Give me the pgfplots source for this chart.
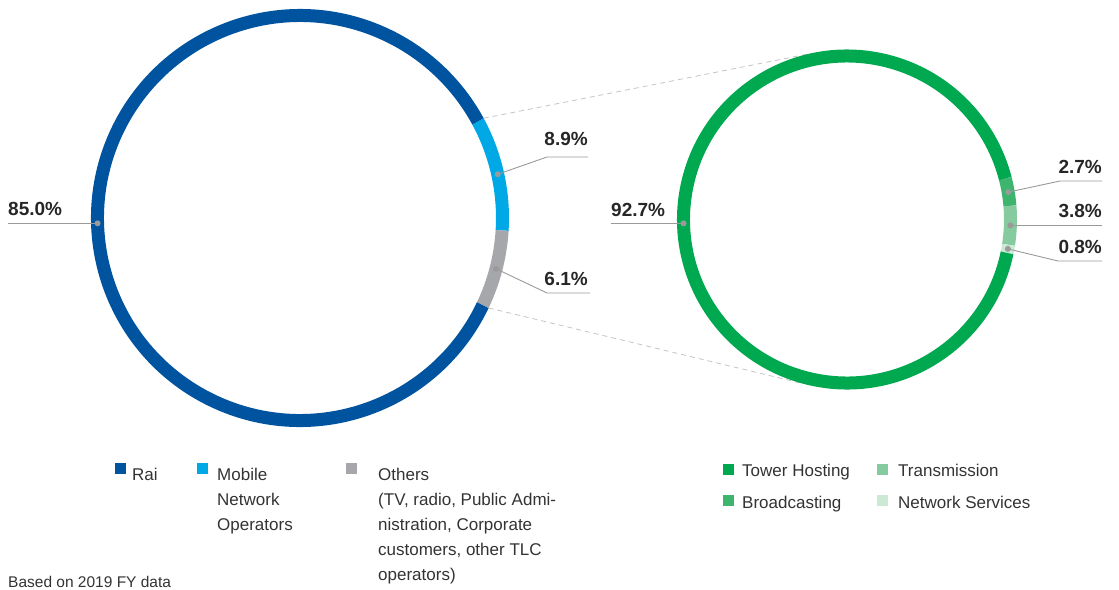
\documentclass[border=0pt]{standalone}
\usepackage{fontspec}
\setmainfont{Liberation Sans}
\usepackage{pgfplots}
\pgfplotsset{compat=1.18}

\definecolor{raiblue}{HTML}{00539F}
\definecolor{mobblue}{HTML}{00A9E6}
\definecolor{othgray}{HTML}{A6A7AA}
\definecolor{towergreen}{HTML}{00A84F}
\definecolor{bcgreen}{HTML}{3DB56F}
\definecolor{trgreen}{HTML}{86CA9F}
\definecolor{nsgreen}{HTML}{CBE9D5}
\definecolor{leadgray}{HTML}{9A9A9A}
\definecolor{dashgray}{HTML}{C4C4C4}
\definecolor{txt}{HTML}{333333}

% shares (percent), in clockwise drawing order
\def\leftdata{8.9/mobblue,6.1/othgray,85.0/raiblue}
\def\rightdata{2.7/bcgreen,3.8/trgreen,0.8/nsgreen,92.7/towergreen}
\def\leftstart{28.5}
\def\rightstart{14.5}

\newcommand{\pct}[1]{{\fontsize{19}{22}\selectfont\bfseries\color{black!85}#1}}
\newcommand{\leg}{\fontsize{17}{25}\selectfont\color{txt}}

\begin{document}
\begin{tikzpicture}
\begin{axis}[at={(0,0)}, anchor=south west,
  width=1119pt, height=589pt, scale only axis,
  xmin=0, xmax=1119, ymin=0, ymax=589, y dir=reverse,
  enlargelimits=false, hide axis, clip=false]
\coordinate (SW) at (axis cs:0,589);
\coordinate (NE) at (axis cs:1119,0);

% connector lines between the two rings
\pgfplotsextra{
  \pgfmathsetmacro\gend{\leftstart-3.6*(8.9+6.1)}
  \path (axis cs:300,218) ++(\leftstart:209pt) coordinate (ct1);
  \path (axis cs:300,218) ++(\gend:209pt) coordinate (cb1);
  \path (axis cs:847,219.5) ++(103:170pt) coordinate (ct2);
  \path (axis cs:847,219.5) ++(254:170pt) coordinate (cb2);
  \draw[dashgray, line width=0.8pt, dash pattern=on 5pt off 4pt] (ct1) -- (ct2);
  \draw[dashgray, line width=0.8pt, dash pattern=on 5pt off 4pt] (cb1) -- (cb2);
}

% left ring
\pgfplotsextra{
  \xdef\ang{\leftstart}
  \foreach \v/\c [count=\i] in \leftdata {
    \pgfmathsetmacro\e{\ang-3.6*\v}
    \pgfmathsetmacro\m{(\ang+\e)/2}
    \draw[\c, line width=13pt] (axis cs:300,218) ++(\ang:202.5pt)
      arc[start angle=\ang, end angle=\e, radius=202.5pt];
    \path (axis cs:300,218) ++(\m:202.5pt) coordinate (dL\i);
    \xdef\ang{\e}
  }
}

% right ring
\pgfplotsextra{
  \xdef\ang{\rightstart}
  \foreach \v/\c [count=\i] in \rightdata {
    \pgfmathsetmacro\e{\ang-3.6*\v}
    \pgfmathsetmacro\m{(\ang+\e)/2}
    \draw[\c, line width=13pt] (axis cs:847,219.5) ++(\ang:163.5pt)
      arc[start angle=\ang, end angle=\e, radius=163.5pt];
    \path (axis cs:847,219.5) ++(\m:163.5pt) coordinate (dR\i);
    \xdef\ang{\e}
  }
}

% leader lines and labels
\pgfplotsextra{
  \tikzset{lead/.style={leadgray, line width=0.9pt}}
  % left
  \draw[lead] (dL1) -- (axis cs:547,157) -- (axis cs:588,157);
  \node[anchor=base east, inner sep=0pt] at (axis cs:588,145) {\pct{8.9\%}};
  \draw[lead] (dL2) -- (axis cs:547,293) -- (axis cs:590,293);
  \node[anchor=base east, inner sep=0pt] at (axis cs:588,285) {\pct{6.1\%}};
  \coordinate (x85) at (axis cs:8,0);
  \draw[lead] (dL3) -- (dL3 -| x85) coordinate (e85);
  \path (e85) ++(0pt,7.5pt) node[anchor=base west, inner sep=0pt] {\pct{85.0\%}};
  % right
  \draw[lead] (dR1) -- (axis cs:1060,181) -- (axis cs:1102,181);
  \node[anchor=base east, inner sep=0pt] at (axis cs:1102,173) {\pct{2.7\%}};
  \coordinate (x38) at (axis cs:1102,0);
  \draw[lead] (dR2) -- (dR2 -| x38) coordinate (e38);
  \path (e38) ++(0pt,7.5pt) node[anchor=base east, inner sep=0pt] {\pct{3.8\%}};
  \draw[lead] (dR3) -- (axis cs:1058,261) -- (axis cs:1102,261);
  \node[anchor=base east, inner sep=0pt] at (axis cs:1102,253) {\pct{0.8\%}};
  \coordinate (x92) at (axis cs:611,0);
  \draw[lead] (dR4) -- (dR4 -| x92) coordinate (e92);
  \path (e92) ++(0pt,6.5pt) node[anchor=base west, inner sep=0pt] {\pct{92.7\%}};
  % dots
  \foreach \d in {dL1,dL2,dL3,dR1,dR2,dR3,dR4}
    \fill[leadgray] (\d) circle[radius=3pt];
}

% legends (multi-line nodes are anchored at the baseline of their last line)
\pgfplotsextra{
  \tikzset{sq/.style={minimum size=11pt, inner sep=0pt},
           lt/.style={anchor=base west, inner sep=0pt, align=left, font=\leg}}
  \node[sq, fill=raiblue] at (axis cs:120,468) {};
  \node[lt] at (axis cs:132,480) {Rai};
  \node[sq, fill=mobblue] at (axis cs:202,468) {};
  \node[lt] at (axis cs:217,530) {Mobile\\Network\\Operators};
  \node[sq, fill=othgray] at (axis cs:351,468) {};
  \node[lt] at (axis cs:378,580)
    {Others\\(TV, radio, Public Admi-\\nistration, Corporate\\customers, other TLC\\operators)};

  \node[sq, fill=towergreen] at (axis cs:728,469) {};
  \node[lt] at (axis cs:742,476) {Tower Hosting};
  \node[sq, fill=bcgreen] at (axis cs:728,500) {};
  \node[lt] at (axis cs:742,508) {Broadcasting};
  \node[sq, fill=trgreen] at (axis cs:882,469) {};
  \node[lt] at (axis cs:898,476) {Transmission};
  \node[sq, fill=nsgreen] at (axis cs:882,500) {};
  \node[lt] at (axis cs:898,508) {Network Services};

  \node[anchor=base west, inner sep=0pt] at (axis cs:8,587)
    {\fontsize{15.5}{18}\selectfont\color{txt}Based on 2019 FY data};
}
\end{axis}
\pgfresetboundingbox
\useasboundingbox (SW) rectangle (NE);
\end{tikzpicture}
\end{document}
